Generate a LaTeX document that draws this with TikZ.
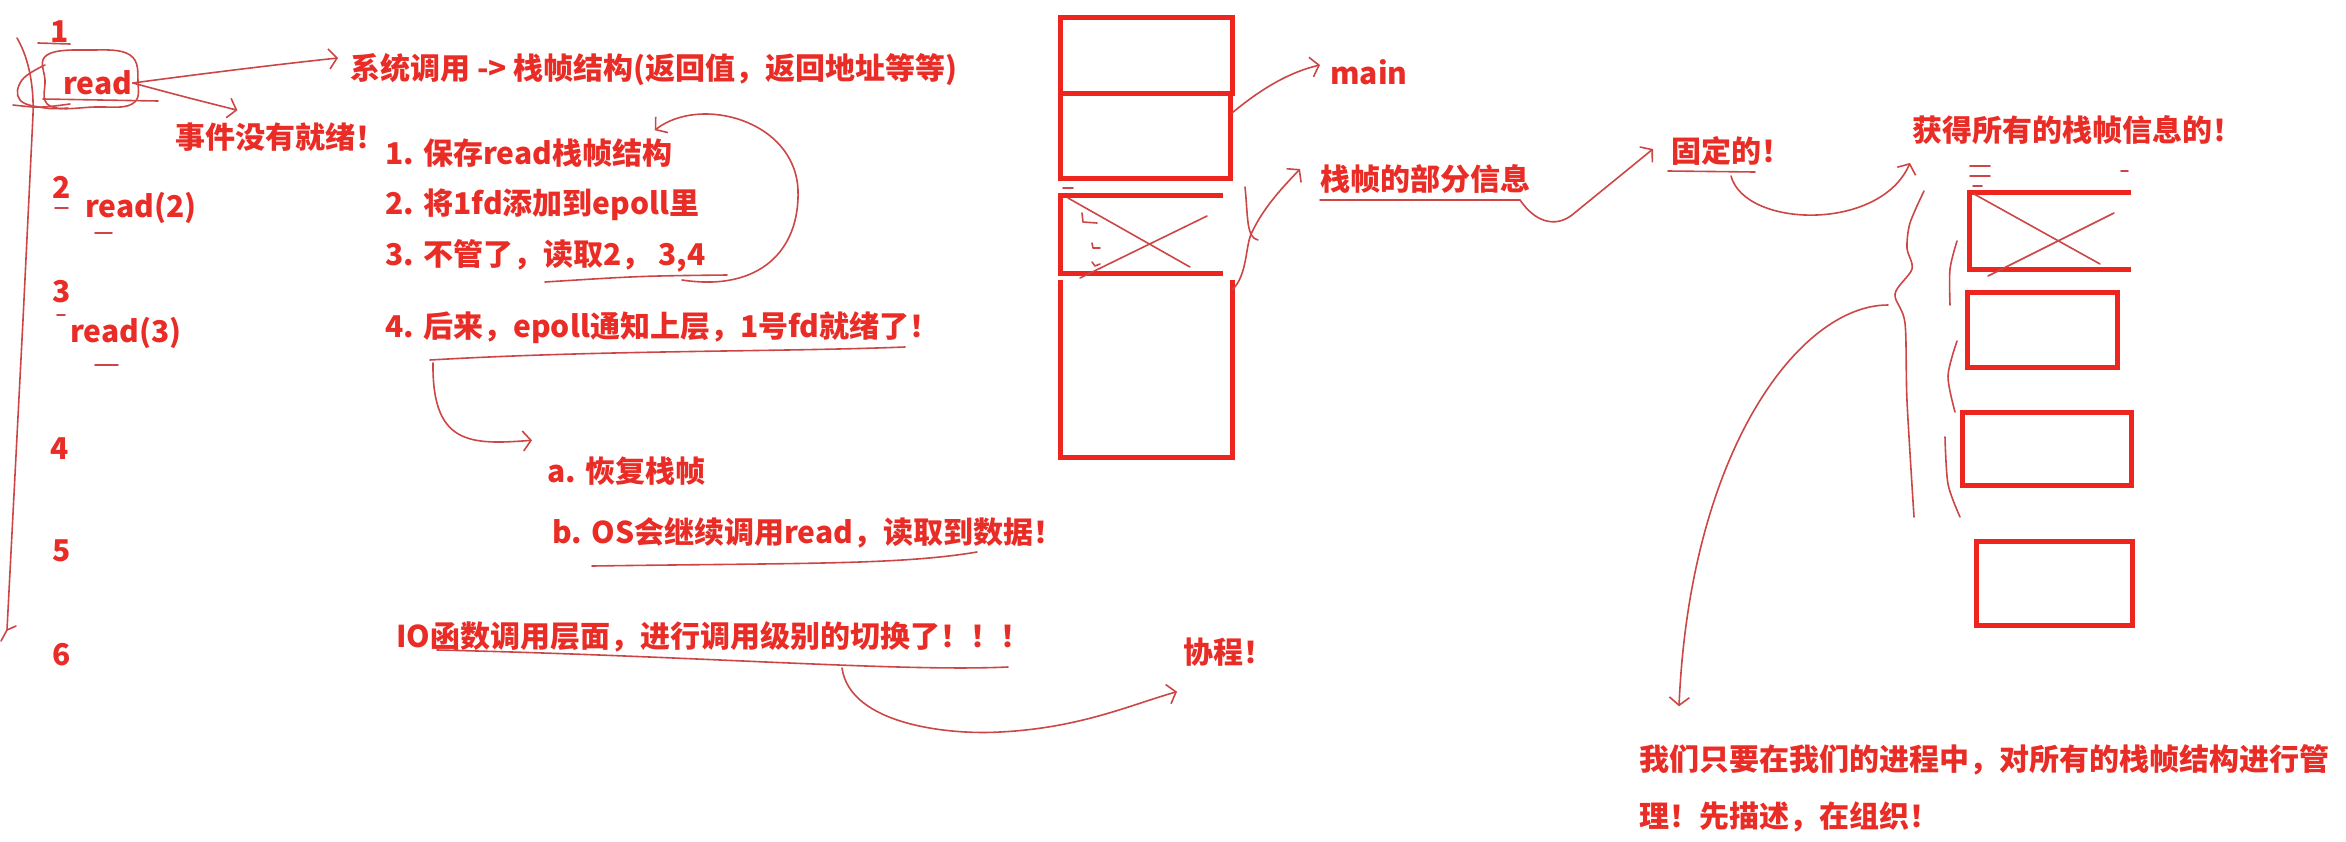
\documentclass[tikz,border=0pt]{standalone}
\usepackage{fontspec}
\setmainfont{Noto Sans CJK SC}
\usetikzlibrary{arrows.meta,calc}
\definecolor{inkR}{RGB}{233,45,38}
\definecolor{boxR}{RGB}{238,36,30}
\definecolor{penR}{RGB}{205,70,70}

\begin{document}
\begin{tikzpicture}[x=0.5pt,y=-0.5pt,>={Straight Barb[length=4pt,width=10pt]},
  txt/.style={text=inkR,font=\bfseries\fontsize{15}{18}\selectfont,anchor=west,inner sep=0pt},
  pen/.style={draw=penR,line width=0.8pt,line cap=round,line join=round},
  frame/.style={draw=boxR,line width=2.5pt}]
\useasboundingbox (0,0) rectangle (2346,841);
% left column: call sequence
\node[txt] (n1) at (50,32) {1};
\node[txt] (rd1) at (63,83) {read};
\node[txt] (n2) at (52,187) {2};
\node[txt] (rd2) at (85,208) {read(2)};
\node[txt] (n3) at (52,292) {3};
\node[txt] (rd3) at (70,333) {read(3)};
\node[txt] (n4) at (50,449) {4};
\node[txt] (n5) at (52,551) {5};
\node[txt] (n6) at (52,655) {6};
\draw[pen] (17,38) .. controls (30,60) and (34,90) .. (33,115) -- (23,320) -- (7,630) -- (1,641);
\draw[pen] (7,630) -- (16,626);
\draw[pen] plot[smooth cycle,tension=0.7] coordinates {(47,55) (90,50) (130,55) (138,82) (132,104) (95,107) (50,106) (45,80)};
\draw[pen] plot[smooth,tension=0.7] coordinates {(45,65) (22,80) (20,100) (45,108) (68,108)};
\draw[pen] (38,43) -- (70,44);           % under 1
\draw[pen] (43,99) -- (158,101);
\draw[pen] (13,105) .. controls (40,108) .. (70,104);
\draw[pen] (55,208) -- (68,208);
\draw[pen] (95,233) -- (112,233);
\draw[pen] (57,315) -- (65,315);
\draw[pen] (95,365) -- (118,365);
% texts in the middle
\node[txt] (sys) at (350,70) {系统调用 -> 栈帧结构(返回值，返回地址等等)};
\node[txt] (notready) at (175,137) {事件没有就绪！};
\node[txt] (st1) at (385,153) {1. 保存read栈帧结构};
\node[txt] (st2) at (385,205) {2. 将1fd添加到epoll里};
\node[txt] (st3) at (385,256) {3. 不管了，读取2， 3,4};
\node[txt] (st4) at (385,328) {4. 后来，epoll通知上层，1号fd就绪了！};
\node[txt] (sa) at (547,471) {a. 恢复栈帧};
\node[txt] (sb) at (552,533) {b. OS会继续调用read，读取到数据！};
\node[txt] (io) at (396,637) {IO函数调用层面，进行调用级别的切换了！！！};
\node[txt] (coro) at (1183,652) {协程！};
\draw[pen,->] (rd1.east) .. controls (230,70) and (300,62) .. ($(sys.west)+(-12,-12)$);
\draw[pen,->] (rd1.east) .. controls (185,97) .. ($(notready.north)+(-43,-12)$);
\draw[pen] (545,282) .. controls (640,276) .. (727,275);        % under 读取2，3,4
\draw[pen,->] (682,280) .. controls (760,292) and (800,250) .. (798,190)
  .. controls (795,120) and (700,95) .. ($(st1.north east)+(-18,-8)$);
\draw[pen] (430,360) .. controls (600,350) and (780,352) .. (905,347);
\draw[pen,->] (433,363) .. controls (432,445) and (470,445) .. ($(sa.north west)+(-15,-16)$);
\draw[pen] (592,566) .. controls (800,563) and (900,565) .. (977,552);
\draw[pen] (437,650) .. controls (700,656) and (900,672) .. (1008,667);
\draw[pen,->] (842,668) .. controls (850,725) and (950,735) .. (1000,732)
  .. controls (1080,728) and (1130,705) .. ($(coro.south west)+(-6,25)$);
% stack in the middle
\draw[frame] (1060,17) rectangle (1232,93);
\draw[frame] (1060,93) rectangle (1230,178);
\draw[frame] (1223,195) -- (1060,195) -- (1060,273) -- (1223,273);
\draw[frame] (1060,280) -- (1060,457) -- (1232,457) -- (1232,280);
\draw[pen] (1068,198) -- (1190,267);
\draw[pen] (1207,216) -- (1080,278);
\draw[pen] (1063,188) -- (1073,188);
\draw[pen] (1082,213) -- (1083,222) -- (1097,223);
\draw[pen] (1092,243) -- (1093,248) -- (1100,248);
\draw[pen] (1092,262) -- (1095,266) -- (1100,264);
\node[txt] (main) at (1330,72) {main};
\node[txt] (part) at (1320,179) {栈帧的部分信息};
\node[txt] (fixed) at (1671,151) {固定的！};
\draw[pen,->] (1232,113) .. controls (1262,88) and (1290,72) .. ($(main.west)+(-10,-7)$);
\draw[pen] (1245,187) .. controls (1248,215) and (1246,238) .. (1258,240);
\draw[pen,->] (1232,290) .. controls (1248,275) and (1245,245) .. (1252,232)
  .. controls (1265,205) and (1285,185) .. ($(part.west)+(-20,-10)$);
\draw[pen] (1320,200) -- (1520,200);
\draw[pen,->] (1520,200) .. controls (1535,222) and (1555,228) .. (1572,215) -- ($(fixed.west)+(-18,-2)$);
\draw[pen] (1668,171) -- (1755,172);
% stack on the right
\node[txt] (allinfo) at (1912,130) {获得所有的栈帧信息的！};
\draw[pen,->] (1731,176) .. controls (1745,228) and (1880,232) .. ($(allinfo.south west)+(-2,18)$);
\draw[pen] (1970,166) -- (1990,166);
\draw[pen] (1970,176) -- (1990,176);
\draw[pen] (1973,186) -- (1982,186);
\draw[pen] (2121,171) -- (2128,171);
\draw[frame] (2131,192) -- (1969,192) -- (1969,269) -- (2131,269);
\draw[pen] (1974,194) -- (2100,264);
\draw[pen] (2114,213) -- (1988,276);
\draw[frame] (1967,292) rectangle (2117,367);
\draw[frame] (1962,412) rectangle (2131,485);
\draw[frame] (1976,541) rectangle (2132,625);
\draw[pen] plot[smooth] coordinates {(1924,191) (1910,223) (1907,248) (1912,269) (1895,294) (1905,323) (1907,401) (1914,517)};
\draw[pen] plot[smooth] coordinates {(1957,241) (1950,269) (1950,305)};
\draw[pen] plot[smooth] coordinates {(1957,341) (1948,376) (1955,412)};
\draw[pen] plot[smooth] coordinates {(1945,437) (1948,484) (1960,517)};
\node[txt] (mgmt1) at (1639,760) {我们只要在我们的进程中，对所有的栈帧结构进行管};
\node[txt] (mgmt2) at (1639,817) {理！先描述，在组织！};
\draw[pen,->] (1888,305) .. controls (1800,305) and (1690,450) .. ($(mgmt1.north west)+(40,-38)$);
\end{tikzpicture}
\end{document}
